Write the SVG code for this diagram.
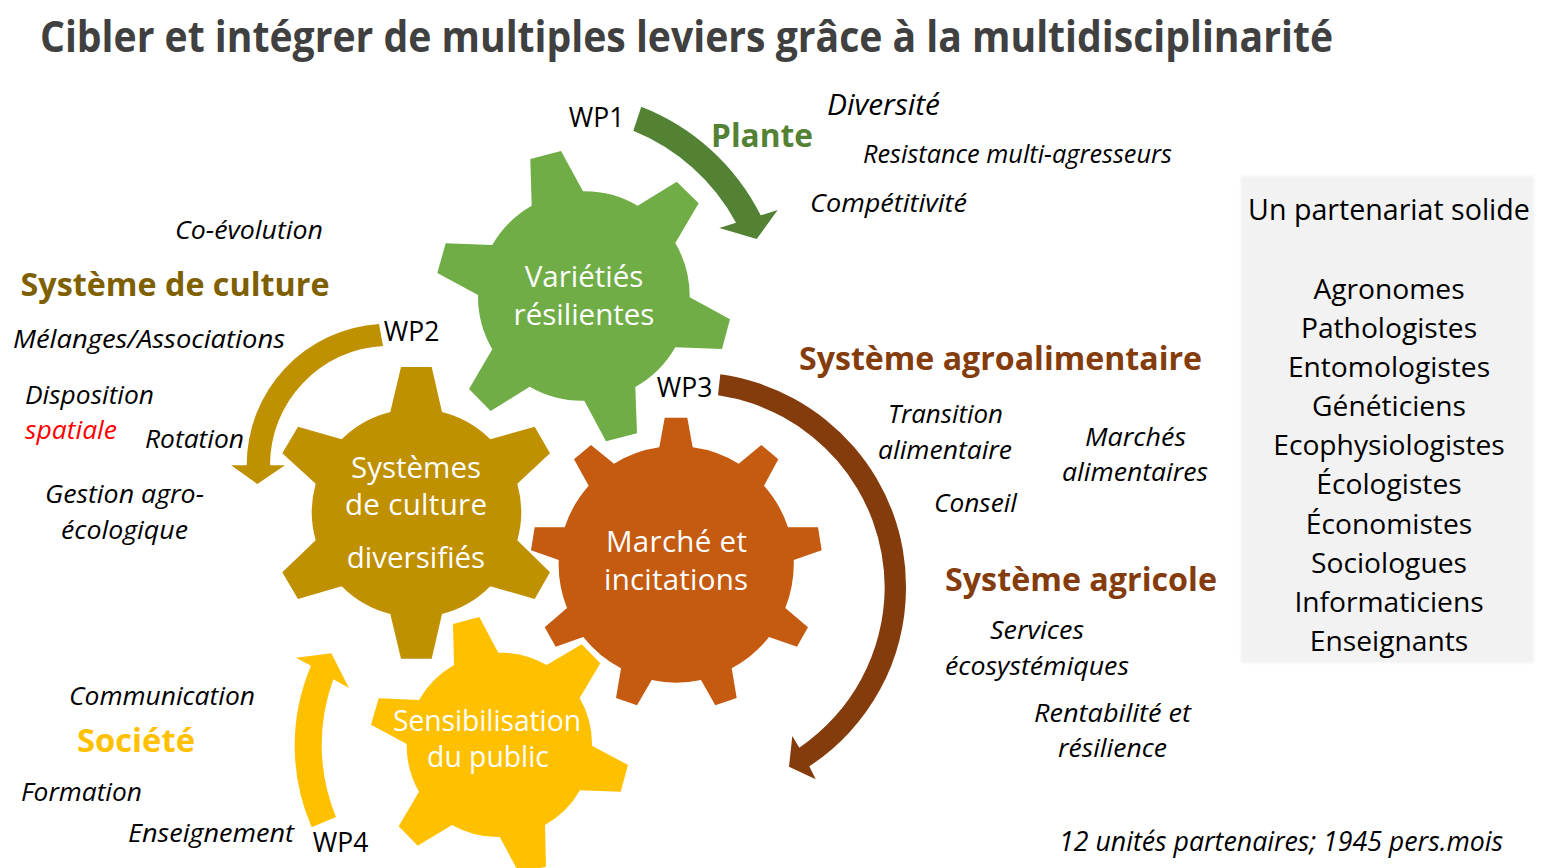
<svg xmlns="http://www.w3.org/2000/svg" width="1549" height="868" viewBox="0 0 1549 868">
<defs><filter id="soft" x="-3%" y="-3%" width="106%" height="106%"><feGaussianBlur stdDeviation="1.6"/></filter></defs>
<style>
text{font-family:"Open Sans","Noto Sans","DejaVu Sans",sans-serif}
.t{font-size:29.5px;fill:#fff;text-anchor:middle}
.i{font-size:26px;font-style:italic;fill:#000;text-anchor:middle}
.wp{font-size:26.500px;fill:#000;text-anchor:middle}
.h{font-size:33px;font-weight:700;text-anchor:middle}
.p{font-size:28.200px;fill:#000;text-anchor:middle}
</style>
<rect width="1549" height="868" fill="#fff"/>
<text x="40" y="52" font-size="43" font-weight="700" fill="#404040" textLength="1293" lengthAdjust="spacingAndGlyphs">Cibler et intégrer de multiples leviers grâce à la multidisciplinarité</text>
<g id="connectors">
<path fill="#548235" d="M641.3 106.7A225 225 0 0 1 760.7 215.3L777.7 210L756.7 239L719.3 228L736 222.7A204 204 0 0 0 633.3 130.7Z"/>
<path fill="#BF9000" d="M379 324A141.3 141.3 0 0 0 246.7 465.3L231 465.3L257.3 484L285 465.3L270 465.3A119.5 119.5 0 0 1 383 346Z"/>
<path fill="#843C0C" d="M720.3 374.3A216 214 0 0 1 906 588.3A216 214 0 0 1 809.3 766.3L815.7 779.3L789 766.7L792.3 736L799.3 747.7A195 195 0 0 0 884.7 588.3A195 195 0 0 0 718 395.3Z"/>
<path fill="#FFC000" d="M311.7 827.3A204 204 0 0 1 311 665.7L296 657.7L331.3 653.3L349 688L333.3 679.3A190 190 0 0 0 336 817Z"/>
</g>
<g id="node-varietes">
<path fill="#70AD47" d="M530.3 159L561 151L583 191.3A105 105 0 0 1 637.7 205.7L676.7 181.7L698.7 203.3L675.3 243A105 105 0 0 1 689.7 297.3L730 319.3L722 349L675.3 347.3A105 105 0 0 1 635.3 387L637 433.3L606 441.3L584.3 400.7A105 105 0 0 1 529.7 386.7L490.7 411L469 389L492.3 349.3A105 105 0 0 1 478 295L437.3 273L445.7 243.3L492.3 245A105 105 0 0 1 531.7 205.7Z"/>
<text class="t" x="584" y="287">Variétiés</text>
<text class="t" x="584" y="325">résilientes</text>
</g>
<g id="node-systemes">
<path fill="#BF9000" d="M401 367L431.7 367L442 412A104 104 0 0 1 490.3 439.3L534.7 426.7L550 453.3L517.3 483.7A104 104 0 0 1 517.3 540.3L550 572.3L534.7 599L490.3 586.3A104 104 0 0 1 442 614L431.7 658.7L401 658.7L390.3 614A104 104 0 0 1 341.7 586.3L298 599L282.3 572.3L315.7 540.3A104 104 0 0 1 315.7 483.7L282.3 453.3L298 426.7L341.7 439.3A104 104 0 0 1 390.3 412Z"/>
<text class="t" x="416" y="478">Systèmes</text>
<text class="t" x="416" y="515" textLength="142">de culture</text>
<text class="t" x="416" y="568">diversifiés</text>
</g>
<g id="node-marche">
<path fill="#C55A11" d="M664.7 417.7L687.3 417.7L692.7 447.3A117.5 117.5 0 0 1 738.7 463.7L761.3 445L778.3 459.3L764 485.7A117.5 117.5 0 0 1 788 527.3L818 527.3L821.7 550.3L793.7 560A117.5 117.5 0 0 1 785.3 608L808 627.3L797 646.7L769 637A117.5 117.5 0 0 1 731.7 668.3L736.7 698L715.3 705.3L701 680A117.5 117.5 0 0 1 651.7 680L637 705.3L616 698L621 668.3A117.5 117.5 0 0 1 583.3 637L555.7 646.7L544.7 627.3L567 608A117.5 117.5 0 0 1 558.7 560L531 550.3L534.7 527.3L564.7 527.3A117.5 117.5 0 0 1 588.7 485.7L574 459.3L591 445L614 463.7A117.5 117.5 0 0 1 659.3 447.3Z"/>
<text class="t" x="676.500" y="552" textLength="141">Marché et</text>
<text class="t" x="676" y="590" textLength="144">incitations</text>
</g>
<g id="node-sensibilisation">
<path fill="#FFC000" d="M453 624L479.3 617L498.3 652.7A92.500 92.500 0 0 1 546.700 665L581.700 644.300L600.300 663.300L579.700 698A92.500 92.500 0 0 1 592 745.700L628 765L620.700 791.700L580 790.300A92.500 92.500 0 0 1 545 825L546 866.700L519 873L499.800 837A92.500 92.500 0 0 1 452 825L417.700 845.700L398.700 826.300L419 791.700A92.500 92.500 0 0 1 406.700 744L371 724.700L378.700 698.300L419 700A92.500 92.500 0 0 1 454 665Z"/>
<text class="t" x="487" y="731" style="font-size:28.300px" textLength="188">Sensibilisation</text>
<text class="t" x="488" y="767" style="font-size:28.300px">du public</text>
</g>
<g id="labels">
<text class="wp" x="596.500" y="127">WP1</text>
<text class="wp" x="411.500" y="341">WP2</text>
<text class="wp" x="684.500" y="397">WP3</text>
<text class="wp" x="340.500" y="852">WP4</text>
<text class="h" x="762" y="147" fill="#548235" textLength="102" lengthAdjust="spacingAndGlyphs">Plante</text>
<text class="h" x="175" y="296" fill="#7F6000" textLength="309" lengthAdjust="spacingAndGlyphs">Système de culture</text>
<text class="h" x="1000.500" y="370" fill="#843C0C" textLength="403" lengthAdjust="spacingAndGlyphs">Système agroalimentaire</text>
<text class="h" x="1081" y="591" fill="#843C0C" textLength="272" lengthAdjust="spacingAndGlyphs">Système agricole</text>
<text class="h" x="136" y="752" fill="#FFC000" textLength="118" lengthAdjust="spacingAndGlyphs">Société</text>
<text class="i" x="883.500" y="115" style="font-size:30px" textLength="113" lengthAdjust="spacingAndGlyphs">Diversité</text>
<text class="i" x="1017.500" y="163" textLength="309" lengthAdjust="spacingAndGlyphs">Resistance multi-agresseurs</text>
<text class="i" x="888.500" y="212" textLength="157" lengthAdjust="spacingAndGlyphs">Compétitivité</text>
<text class="i" x="249" y="239" textLength="148" lengthAdjust="spacingAndGlyphs">Co-évolution</text>
<text class="i" x="149" y="348" textLength="272" lengthAdjust="spacingAndGlyphs">Mélanges/Associations</text>
<text class="i" x="89.500" y="404" textLength="129" lengthAdjust="spacingAndGlyphs">Disposition</text>
<text class="i" x="71" y="439" style="fill:#f00" textLength="92" lengthAdjust="spacingAndGlyphs">spatiale</text>
<text class="i" x="194.500" y="448" textLength="99" lengthAdjust="spacingAndGlyphs">Rotation</text>
<text class="i" x="124.500" y="503" textLength="159" lengthAdjust="spacingAndGlyphs">Gestion agro-</text>
<text class="i" x="124.500" y="539" textLength="127" lengthAdjust="spacingAndGlyphs">écologique</text>
<text class="i" x="945.500" y="423" textLength="115" lengthAdjust="spacingAndGlyphs">Transition</text>
<text class="i" x="945" y="459" textLength="134" lengthAdjust="spacingAndGlyphs">alimentaire</text>
<text class="i" x="1135.500" y="446" textLength="101" lengthAdjust="spacingAndGlyphs">Marchés</text>
<text class="i" x="1135" y="481" textLength="146" lengthAdjust="spacingAndGlyphs">alimentaires</text>
<text class="i" x="975.500" y="512" textLength="83" lengthAdjust="spacingAndGlyphs">Conseil</text>
<text class="i" x="1037" y="639" textLength="94" lengthAdjust="spacingAndGlyphs">Services</text>
<text class="i" x="1037" y="675" textLength="184" lengthAdjust="spacingAndGlyphs">écosystémiques</text>
<text class="i" x="1112.500" y="722" textLength="157" lengthAdjust="spacingAndGlyphs">Rentabilité et</text>
<text class="i" x="1112.500" y="757" textLength="109" lengthAdjust="spacingAndGlyphs">résilience</text>
<text class="i" x="162" y="705" textLength="186" lengthAdjust="spacingAndGlyphs">Communication</text>
<text class="i" x="81.500" y="801" textLength="121" lengthAdjust="spacingAndGlyphs">Formation</text>
<text class="i" x="211" y="842" textLength="166" lengthAdjust="spacingAndGlyphs">Enseignement</text>
<text class="i" x="1281" y="851" style="font-size:27px" textLength="444" lengthAdjust="spacingAndGlyphs">12 unités partenaires; 1945 pers.mois</text>
</g>
<g id="panel">
<rect x="1241" y="176" width="293" height="487" fill="#F2F2F2" filter="url(#soft)"/>
<text class="p" x="1389" y="220" style="font-size:28.600px">Un partenariat solide</text>
<text class="p" x="1389" y="299">Agronomes</text>
<text class="p" x="1389" y="338">Pathologistes</text>
<text class="p" x="1389" y="377">Entomologistes</text>
<text class="p" x="1389" y="416">Généticiens</text>
<text class="p" x="1389" y="455">Ecophysiologistes</text>
<text class="p" x="1389" y="494">Écologistes</text>
<text class="p" x="1389" y="534">Économistes</text>
<text class="p" x="1389" y="573">Sociologues</text>
<text class="p" x="1389" y="612">Informaticiens</text>
<text class="p" x="1389" y="651">Enseignants</text>
</g>
</svg>
